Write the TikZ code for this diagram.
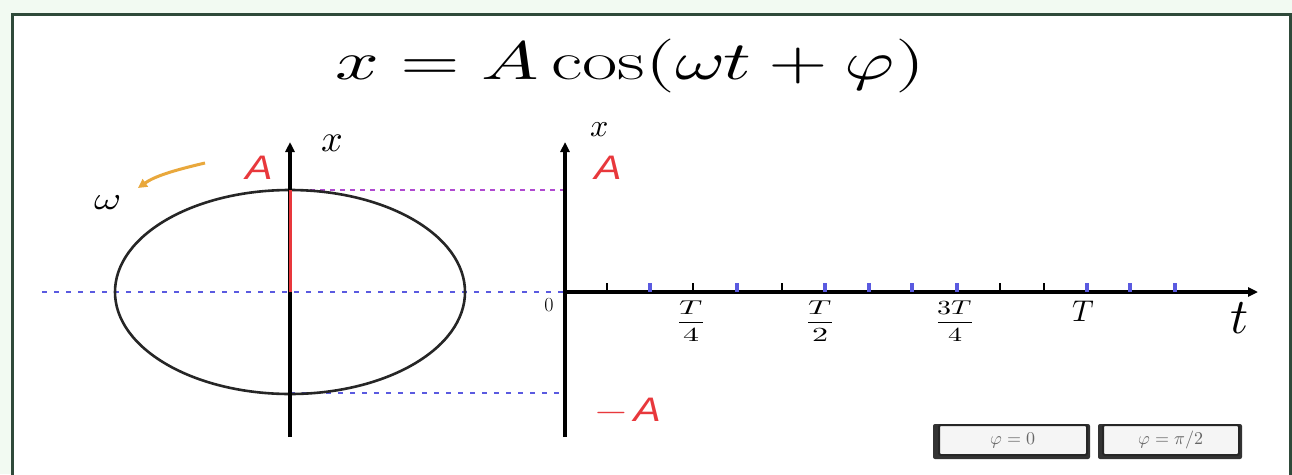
\documentclass[tikz,border=0pt]{standalone}
\usepackage{amsmath}
\usepackage{fontspec}
\usepackage{unicode-math}
\setmathfont{Latin Modern Math}
\newfontfamily\arialfont{Liberation Sans}
\usetikzlibrary{arrows.meta}
\definecolor{bgmint}{HTML}{F2FAF2}
\definecolor{framecol}{HTML}{2F4A3A}
\definecolor{redA}{HTML}{E8383C}
\definecolor{dotblue}{HTML}{5A5AE0}
\definecolor{dashmag}{HTML}{B04AD0}
\definecolor{orng}{HTML}{E9A83C}
\tikzset{
  axisline/.style={line width=3.2pt, draw=black, -{Triangle[length=10pt,width=9pt]}},
  bluedot/.style={draw=dotblue, line width=2.6pt, dash pattern=on 5pt off 7pt},
  magdash/.style={draw=dashmag, line width=2.2pt, dash pattern=on 5pt off 5pt},
  redlbl/.style={text=redA, font=\arialfont\itshape\fontsize{34}{36}\selectfont, inner sep=0pt},
  mathlbl/.style={inner sep=0pt, font=\fontsize{38}{40}\selectfont},
  fraclbl/.style={inner sep=0pt, font=\fontsize{20}{23}\selectfont},
  tickblk/.style={draw=black, line width=2.6pt},
  tickblu/.style={draw=dotblue, line width=3.6pt},
  btn/.style={draw=black!85, line width=2pt, fill=gray!8, rounded corners=2pt, minimum height=30pt, inner sep=0pt, font=\fontsize{18}{20}\selectfont, text=black!60}
}
\begin{document}
\begin{tikzpicture}[x=1pt,y=-1pt]
\useasboundingbox (0,0) rectangle (1292,474);
\fill[bgmint] (0,0) rectangle (1292,474);
\fill[white] (12,14) rectangle (1290,480);
\draw[framecol, line width=3pt] (12,480) -- (12,14) -- (1290,14) -- (1290,480);

% title
\node[inner sep=0pt] (title) at (630,66) {\scalebox{1.42}[1]{\fontsize{54}{58}\selectfont $x = A\cos(\omega t + \varphi)$}};

% key points
\coordinate (c) at (290,292);
\coordinate (ctop) at (290,190);
\coordinate (cbot) at (290,393);
\coordinate (lbot) at (290,437);
\coordinate (ltop) at (290,142);
\coordinate (o) at (565,292);
\coordinate (rtop) at (565,142);
\coordinate (rbot) at (565,437);
\coordinate (rA) at (565,190);
\coordinate (rmA) at (565,393);
\coordinate (tend) at (1258,292);
\coordinate (dl) at (42,292);

% dotted lines
\draw[bluedot] (dl) -- (o);
\draw[magdash] (ctop) -- (rA);
\draw[bluedot] (cbot) -- (rmA);

% ellipse
\draw[black!85, line width=2.6pt] (c) ellipse [x radius=175, y radius=102];

% left axis
\draw[axisline] (lbot) -- (ltop);
\draw[redA, line width=3pt] (c) -- (ctop);
\node[mathlbl] (xl) at (332,143) {$x$};
\node[redlbl] (Al) at (259,168) {\scalebox{1.2}[1]{A}};

% omega and rotation arrow
\coordinate (oms) at (205,163);
\coordinate (ome) at (138,188);
\draw[orng, line width=3pt, -{Triangle[length=9pt,width=9pt]}] (oms) .. controls (175,170) and (155,176) .. (ome);
\node[inner sep=0pt, font=\fontsize{32}{34}\selectfont] (om) at (108,203) {\scalebox{1.3}[1]{$\omega$}};

% right axes
\draw[axisline] (rbot) -- (rtop);
\draw[axisline] (o) -- (tend);
\node[mathlbl, font=\fontsize{32}{34}\selectfont] (xr) at (600,130) {$x$};
\node[redlbl] (Ar) at (608,168) {\scalebox{1.2}[1]{A}};
\node[redlbl] (mAr) at (628,410) {\scalebox{1.2}[1]{$-$\,A}};
\node[inner sep=0pt, font=\fontsize{20}{22}\selectfont] (zero) at (549,305) {0};
\node[inner sep=0pt, font=\fontsize{50}{54}\selectfont] (tl) at (1240,318) {$t$};

% ticks
\foreach \xx/\st in {607/tickblk,650/tickblu,693/tickblk,737/tickblu,782/tickblk,825/tickblu,869/tickblu,912/tickblu,957/tickblu,1000/tickblk,1044/tickblk,1087/tickblu,1130/tickblu,1175/tickblu}{
  \draw[\st] (\xx,283) -- (\xx,292);
}

% fraction labels
\node[fraclbl] (q1) at (691,321) {\scalebox{1.6}[1]{$\dfrac{T}{4}$}};
\node[fraclbl] (q2) at (820,321) {\scalebox{1.6}[1]{$\dfrac{T}{2}$}};
\node[fraclbl] (q3) at (955,321) {\scalebox{1.4}[1]{$\dfrac{3T}{4}$}};
\node[inner sep=0pt, font=\fontsize{30}{32}\selectfont] (q4) at (1083,311) {$T$};

% buttons
\fill[black!80, rounded corners=2pt] (933,424) rectangle (1090,459);
\node[btn, minimum width=148pt] (b1) at (1013,440) {$\varphi = 0$};
\fill[black!80, rounded corners=2pt] (1098,424) rectangle (1242,459);
\node[btn, minimum width=136pt] (b2) at (1171,440) {$\varphi = \pi/2$};
\end{tikzpicture}
\end{document}
